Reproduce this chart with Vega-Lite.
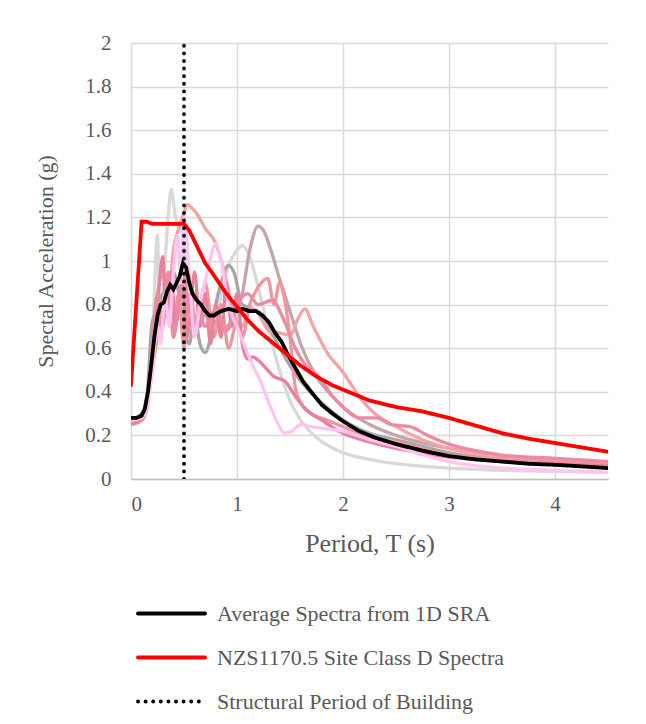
{
  "$schema": "https://vega.github.io/schema/vega-lite/v6.json",
  "width": 477,
  "height": 436,
  "autosize": {"type": "none"},
  "padding": {"left": 131, "top": 43, "right": 38, "bottom": 245},
  "background": "white",
  "config": {
    "view": {"stroke": null},
    "axis": {
      "labelFont": "Times New Roman, Liberation Serif, serif", "titleFont": "Times New Roman, Liberation Serif, serif",
      "labelColor": "#595959", "titleColor": "#595959",
      "labelFontSize": 21, "titleFontSize": 22, "titleFontWeight": "normal",
      "gridColor": "#d9d9d9", "gridWidth": 1.5, "ticks": false
    },
    "legend": {
      "labelFont": "Times New Roman, Liberation Serif, serif", "labelColor": "#595959", "labelFontSize": 22, "labelLimit": 500
    }
  },
  "datasets": {
    "rec": [
      {"s":"A","T":0,"Sa":0.27},{"s":"A","T":0.1,"Sa":0.28},{"s":"A","T":0.15,"Sa":0.35},{"s":"A","T":0.2,"Sa":0.6},{"s":"A","T":0.25,"Sa":1.12},{"s":"A","T":0.27,"Sa":0.75},{"s":"A","T":0.3,"Sa":0.85},{"s":"A","T":0.35,"Sa":1.2},{"s":"A","T":0.38,"Sa":1.33},{"s":"A","T":0.42,"Sa":1.2},{"s":"A","T":0.47,"Sa":1.15},{"s":"A","T":0.52,"Sa":1.0},{"s":"A","T":0.58,"Sa":0.8},{"s":"A","T":0.65,"Sa":0.7},{"s":"A","T":0.72,"Sa":0.72},{"s":"A","T":0.8,"Sa":0.75},{"s":"A","T":0.9,"Sa":0.95},{"s":"A","T":1.0,"Sa":1.05},{"s":"A","T":1.05,"Sa":1.07},{"s":"A","T":1.12,"Sa":1.02},{"s":"A","T":1.2,"Sa":0.88},{"s":"A","T":1.3,"Sa":0.68},{"s":"A","T":1.4,"Sa":0.5},{"s":"A","T":1.5,"Sa":0.36},{"s":"A","T":1.6,"Sa":0.27},{"s":"A","T":1.75,"Sa":0.19},{"s":"A","T":2.0,"Sa":0.12},{"s":"A","T":2.25,"Sa":0.09},{"s":"A","T":2.5,"Sa":0.07},{"s":"A","T":3.0,"Sa":0.05},{"s":"A","T":3.5,"Sa":0.04},{"s":"A","T":4.0,"Sa":0.035},{"s":"A","T":4.5,"Sa":0.03},
      {"s":"B","T":0,"Sa":0.27},{"s":"B","T":0.1,"Sa":0.3},{"s":"B","T":0.15,"Sa":0.38},{"s":"B","T":0.2,"Sa":0.72},{"s":"B","T":0.25,"Sa":0.78},{"s":"B","T":0.3,"Sa":0.85},{"s":"B","T":0.35,"Sa":0.75},{"s":"B","T":0.4,"Sa":0.95},{"s":"B","T":0.45,"Sa":0.85},{"s":"B","T":0.5,"Sa":0.7},{"s":"B","T":0.55,"Sa":0.62},{"s":"B","T":0.6,"Sa":0.75},{"s":"B","T":0.65,"Sa":0.62},{"s":"B","T":0.7,"Sa":0.58},{"s":"B","T":0.75,"Sa":0.65},{"s":"B","T":0.8,"Sa":0.8},{"s":"B","T":0.85,"Sa":0.9},{"s":"B","T":0.92,"Sa":0.98},{"s":"B","T":0.97,"Sa":0.95},{"s":"B","T":1.05,"Sa":0.8},{"s":"B","T":1.15,"Sa":0.78},{"s":"B","T":1.25,"Sa":0.75},{"s":"B","T":1.35,"Sa":0.65},{"s":"B","T":1.5,"Sa":0.52},{"s":"B","T":1.65,"Sa":0.42},{"s":"B","T":1.8,"Sa":0.35},{"s":"B","T":2.0,"Sa":0.27},{"s":"B","T":2.25,"Sa":0.21},{"s":"B","T":2.5,"Sa":0.18},{"s":"B","T":2.75,"Sa":0.15},{"s":"B","T":3.0,"Sa":0.12},{"s":"B","T":3.5,"Sa":0.09},{"s":"B","T":4.0,"Sa":0.075},{"s":"B","T":4.5,"Sa":0.065},
      {"s":"C","T":0,"Sa":0.26},{"s":"C","T":0.1,"Sa":0.28},{"s":"C","T":0.15,"Sa":0.33},{"s":"C","T":0.2,"Sa":0.55},{"s":"C","T":0.25,"Sa":0.7},{"s":"C","T":0.3,"Sa":0.8},{"s":"C","T":0.4,"Sa":0.75},{"s":"C","T":0.5,"Sa":0.85},{"s":"C","T":0.6,"Sa":0.7},{"s":"C","T":0.7,"Sa":0.75},{"s":"C","T":0.8,"Sa":0.72},{"s":"C","T":0.9,"Sa":0.7},{"s":"C","T":0.97,"Sa":0.75},{"s":"C","T":1.05,"Sa":0.85},{"s":"C","T":1.12,"Sa":1.05},{"s":"C","T":1.2,"Sa":1.16},{"s":"C","T":1.25,"Sa":1.14},{"s":"C","T":1.32,"Sa":1.05},{"s":"C","T":1.4,"Sa":0.92},{"s":"C","T":1.5,"Sa":0.77},{"s":"C","T":1.6,"Sa":0.62},{"s":"C","T":1.75,"Sa":0.47},{"s":"C","T":1.9,"Sa":0.38},{"s":"C","T":2.0,"Sa":0.33},{"s":"C","T":2.25,"Sa":0.25},{"s":"C","T":2.5,"Sa":0.2},{"s":"C","T":3.0,"Sa":0.14},{"s":"C","T":3.5,"Sa":0.1},{"s":"C","T":4.0,"Sa":0.085},{"s":"C","T":4.5,"Sa":0.07},
      {"s":"D","T":0,"Sa":0.27},{"s":"D","T":0.1,"Sa":0.29},{"s":"D","T":0.15,"Sa":0.35},{"s":"D","T":0.2,"Sa":0.6},{"s":"D","T":0.25,"Sa":0.85},{"s":"D","T":0.3,"Sa":0.95},{"s":"D","T":0.35,"Sa":0.8},{"s":"D","T":0.4,"Sa":1.05},{"s":"D","T":0.45,"Sa":1.15},{"s":"D","T":0.5,"Sa":1.22},{"s":"D","T":0.53,"Sa":1.26},{"s":"D","T":0.58,"Sa":1.24},{"s":"D","T":0.63,"Sa":1.21},{"s":"D","T":0.7,"Sa":1.15},{"s":"D","T":0.8,"Sa":1.08},{"s":"D","T":0.88,"Sa":0.95},{"s":"D","T":0.95,"Sa":0.8},{"s":"D","T":1.0,"Sa":0.72},{"s":"D","T":1.05,"Sa":0.7},{"s":"D","T":1.12,"Sa":0.78},{"s":"D","T":1.2,"Sa":0.76},{"s":"D","T":1.3,"Sa":0.68},{"s":"D","T":1.4,"Sa":0.67},{"s":"D","T":1.5,"Sa":0.66},{"s":"D","T":1.58,"Sa":0.74},{"s":"D","T":1.64,"Sa":0.78},{"s":"D","T":1.72,"Sa":0.7},{"s":"D","T":1.85,"Sa":0.58},{"s":"D","T":2.0,"Sa":0.49},{"s":"D","T":2.15,"Sa":0.38},{"s":"D","T":2.3,"Sa":0.3},{"s":"D","T":2.5,"Sa":0.24},{"s":"D","T":2.75,"Sa":0.18},{"s":"D","T":3.0,"Sa":0.14},{"s":"D","T":3.5,"Sa":0.1},{"s":"D","T":4.0,"Sa":0.085},{"s":"D","T":4.5,"Sa":0.075},
      {"s":"E","T":0,"Sa":0.26},{"s":"E","T":0.1,"Sa":0.28},{"s":"E","T":0.15,"Sa":0.33},{"s":"E","T":0.2,"Sa":0.5},{"s":"E","T":0.25,"Sa":0.65},{"s":"E","T":0.3,"Sa":0.75},{"s":"E","T":0.35,"Sa":0.9},{"s":"E","T":0.4,"Sa":0.7},{"s":"E","T":0.45,"Sa":0.85},{"s":"E","T":0.5,"Sa":0.6},{"s":"E","T":0.55,"Sa":0.85},{"s":"E","T":0.62,"Sa":0.7},{"s":"E","T":0.7,"Sa":0.9},{"s":"E","T":0.78,"Sa":0.65},{"s":"E","T":0.85,"Sa":0.8},{"s":"E","T":0.92,"Sa":0.6},{"s":"E","T":1.0,"Sa":0.72},{"s":"E","T":1.05,"Sa":0.65},{"s":"E","T":1.12,"Sa":0.8},{"s":"E","T":1.2,"Sa":0.88},{"s":"E","T":1.29,"Sa":0.92},{"s":"E","T":1.35,"Sa":0.8},{"s":"E","T":1.4,"Sa":0.9},{"s":"E","T":1.45,"Sa":0.82},{"s":"E","T":1.5,"Sa":0.65},{"s":"E","T":1.55,"Sa":0.42},{"s":"E","T":1.6,"Sa":0.35},{"s":"E","T":1.7,"Sa":0.3},{"s":"E","T":1.85,"Sa":0.27},{"s":"E","T":2.0,"Sa":0.24},{"s":"E","T":2.25,"Sa":0.19},{"s":"E","T":2.5,"Sa":0.17},{"s":"E","T":2.75,"Sa":0.14},{"s":"E","T":3.0,"Sa":0.11},{"s":"E","T":3.5,"Sa":0.09},{"s":"E","T":4.0,"Sa":0.08},{"s":"E","T":4.5,"Sa":0.07},
      {"s":"F","T":0,"Sa":0.25},{"s":"F","T":0.1,"Sa":0.27},{"s":"F","T":0.15,"Sa":0.32},{"s":"F","T":0.2,"Sa":0.55},{"s":"F","T":0.25,"Sa":0.8},{"s":"F","T":0.3,"Sa":1.02},{"s":"F","T":0.33,"Sa":0.75},{"s":"F","T":0.38,"Sa":0.95},{"s":"F","T":0.42,"Sa":0.7},{"s":"F","T":0.48,"Sa":0.9},{"s":"F","T":0.53,"Sa":0.65},{"s":"F","T":0.6,"Sa":0.95},{"s":"F","T":0.65,"Sa":0.7},{"s":"F","T":0.7,"Sa":0.85},{"s":"F","T":0.75,"Sa":0.62},{"s":"F","T":0.8,"Sa":0.8},{"s":"F","T":0.85,"Sa":0.65},{"s":"F","T":0.9,"Sa":0.9},{"s":"F","T":0.95,"Sa":0.7},{"s":"F","T":1.0,"Sa":0.85},{"s":"F","T":1.05,"Sa":0.62},{"s":"F","T":1.1,"Sa":0.55},{"s":"F","T":1.15,"Sa":0.56},{"s":"F","T":1.25,"Sa":0.52},{"s":"F","T":1.35,"Sa":0.47},{"s":"F","T":1.45,"Sa":0.45},{"s":"F","T":1.55,"Sa":0.38},{"s":"F","T":1.65,"Sa":0.32},{"s":"F","T":1.8,"Sa":0.27},{"s":"F","T":2.0,"Sa":0.21},{"s":"F","T":2.25,"Sa":0.17},{"s":"F","T":2.5,"Sa":0.14},{"s":"F","T":3.0,"Sa":0.1},{"s":"F","T":3.5,"Sa":0.08},{"s":"F","T":4.0,"Sa":0.07},{"s":"F","T":4.5,"Sa":0.06},
      {"s":"G","T":0,"Sa":0.26},{"s":"G","T":0.1,"Sa":0.28},{"s":"G","T":0.15,"Sa":0.34},{"s":"G","T":0.2,"Sa":0.6},{"s":"G","T":0.25,"Sa":0.85},{"s":"G","T":0.3,"Sa":0.7},{"s":"G","T":0.35,"Sa":0.95},{"s":"G","T":0.4,"Sa":0.65},{"s":"G","T":0.45,"Sa":0.8},{"s":"G","T":0.5,"Sa":0.95},{"s":"G","T":0.55,"Sa":0.75},{"s":"G","T":0.6,"Sa":0.85},{"s":"G","T":0.7,"Sa":0.7},{"s":"G","T":0.8,"Sa":0.78},{"s":"G","T":0.9,"Sa":0.68},{"s":"G","T":1.0,"Sa":0.8},{"s":"G","T":1.1,"Sa":0.85},{"s":"G","T":1.2,"Sa":0.8},{"s":"G","T":1.33,"Sa":0.82},{"s":"G","T":1.45,"Sa":0.72},{"s":"G","T":1.55,"Sa":0.6},{"s":"G","T":1.65,"Sa":0.52},{"s":"G","T":1.77,"Sa":0.47},{"s":"G","T":1.9,"Sa":0.38},{"s":"G","T":2.0,"Sa":0.33},{"s":"G","T":2.15,"Sa":0.28},{"s":"G","T":2.32,"Sa":0.28},{"s":"G","T":2.45,"Sa":0.25},{"s":"G","T":2.63,"Sa":0.24},{"s":"G","T":2.8,"Sa":0.2},{"s":"G","T":3.0,"Sa":0.16},{"s":"G","T":3.25,"Sa":0.13},{"s":"G","T":3.5,"Sa":0.11},{"s":"G","T":4.0,"Sa":0.095},{"s":"G","T":4.5,"Sa":0.08},
      {"s":"H","T":0,"Sa":0.27},{"s":"H","T":0.1,"Sa":0.28},{"s":"H","T":0.15,"Sa":0.32},{"s":"H","T":0.2,"Sa":0.5},{"s":"H","T":0.25,"Sa":0.7},{"s":"H","T":0.28,"Sa":0.62},{"s":"H","T":0.32,"Sa":0.85},{"s":"H","T":0.36,"Sa":0.7},{"s":"H","T":0.4,"Sa":0.95},{"s":"H","T":0.44,"Sa":1.12},{"s":"H","T":0.47,"Sa":0.9},{"s":"H","T":0.5,"Sa":1.2},{"s":"H","T":0.55,"Sa":0.95},{"s":"H","T":0.6,"Sa":0.65},{"s":"H","T":0.65,"Sa":0.8},{"s":"H","T":0.72,"Sa":0.95},{"s":"H","T":0.8,"Sa":1.08},{"s":"H","T":0.85,"Sa":1.0},{"s":"H","T":0.92,"Sa":0.8},{"s":"H","T":1.0,"Sa":0.7},{"s":"H","T":1.08,"Sa":0.6},{"s":"H","T":1.15,"Sa":0.52},{"s":"H","T":1.22,"Sa":0.45},{"s":"H","T":1.3,"Sa":0.35},{"s":"H","T":1.38,"Sa":0.26},{"s":"H","T":1.45,"Sa":0.21},{"s":"H","T":1.52,"Sa":0.22},{"s":"H","T":1.6,"Sa":0.25},{"s":"H","T":1.7,"Sa":0.24},{"s":"H","T":1.85,"Sa":0.23},{"s":"H","T":2.0,"Sa":0.22},{"s":"H","T":2.25,"Sa":0.18},{"s":"H","T":2.5,"Sa":0.15},{"s":"H","T":2.75,"Sa":0.11},{"s":"H","T":3.0,"Sa":0.08},{"s":"H","T":3.5,"Sa":0.05},{"s":"H","T":4.0,"Sa":0.04},{"s":"H","T":4.5,"Sa":0.03}
    ],
    "main": [
      {"series":"Average Spectra from 1D SRA","T":0,"Sa":0.28},{"series":"Average Spectra from 1D SRA","T":0.05,"Sa":0.28},{"series":"Average Spectra from 1D SRA","T":0.1,"Sa":0.29},{"series":"Average Spectra from 1D SRA","T":0.13,"Sa":0.32},{"series":"Average Spectra from 1D SRA","T":0.16,"Sa":0.4},{"series":"Average Spectra from 1D SRA","T":0.19,"Sa":0.52},{"series":"Average Spectra from 1D SRA","T":0.22,"Sa":0.65},{"series":"Average Spectra from 1D SRA","T":0.25,"Sa":0.75},{"series":"Average Spectra from 1D SRA","T":0.28,"Sa":0.8},{"series":"Average Spectra from 1D SRA","T":0.31,"Sa":0.81},{"series":"Average Spectra from 1D SRA","T":0.34,"Sa":0.86},{"series":"Average Spectra from 1D SRA","T":0.37,"Sa":0.89},{"series":"Average Spectra from 1D SRA","T":0.4,"Sa":0.87},{"series":"Average Spectra from 1D SRA","T":0.43,"Sa":0.9},{"series":"Average Spectra from 1D SRA","T":0.46,"Sa":0.93},{"series":"Average Spectra from 1D SRA","T":0.49,"Sa":0.99},{"series":"Average Spectra from 1D SRA","T":0.52,"Sa":0.97},{"series":"Average Spectra from 1D SRA","T":0.55,"Sa":0.9},{"series":"Average Spectra from 1D SRA","T":0.58,"Sa":0.85},{"series":"Average Spectra from 1D SRA","T":0.62,"Sa":0.82},{"series":"Average Spectra from 1D SRA","T":0.66,"Sa":0.8},{"series":"Average Spectra from 1D SRA","T":0.7,"Sa":0.77},{"series":"Average Spectra from 1D SRA","T":0.74,"Sa":0.75},{"series":"Average Spectra from 1D SRA","T":0.78,"Sa":0.75},{"series":"Average Spectra from 1D SRA","T":0.85,"Sa":0.77},{"series":"Average Spectra from 1D SRA","T":0.92,"Sa":0.78},{"series":"Average Spectra from 1D SRA","T":1.0,"Sa":0.77},{"series":"Average Spectra from 1D SRA","T":1.05,"Sa":0.78},{"series":"Average Spectra from 1D SRA","T":1.12,"Sa":0.77},{"series":"Average Spectra from 1D SRA","T":1.18,"Sa":0.77},{"series":"Average Spectra from 1D SRA","T":1.24,"Sa":0.75},{"series":"Average Spectra from 1D SRA","T":1.3,"Sa":0.72},{"series":"Average Spectra from 1D SRA","T":1.36,"Sa":0.67},{"series":"Average Spectra from 1D SRA","T":1.42,"Sa":0.63},{"series":"Average Spectra from 1D SRA","T":1.48,"Sa":0.57},{"series":"Average Spectra from 1D SRA","T":1.55,"Sa":0.51},{"series":"Average Spectra from 1D SRA","T":1.62,"Sa":0.45},{"series":"Average Spectra from 1D SRA","T":1.7,"Sa":0.4},{"series":"Average Spectra from 1D SRA","T":1.8,"Sa":0.34},{"series":"Average Spectra from 1D SRA","T":1.9,"Sa":0.3},{"series":"Average Spectra from 1D SRA","T":2.0,"Sa":0.265},{"series":"Average Spectra from 1D SRA","T":2.15,"Sa":0.22},{"series":"Average Spectra from 1D SRA","T":2.3,"Sa":0.19},{"series":"Average Spectra from 1D SRA","T":2.5,"Sa":0.16},{"series":"Average Spectra from 1D SRA","T":2.75,"Sa":0.13},{"series":"Average Spectra from 1D SRA","T":3.0,"Sa":0.105},{"series":"Average Spectra from 1D SRA","T":3.25,"Sa":0.09},{"series":"Average Spectra from 1D SRA","T":3.5,"Sa":0.08},{"series":"Average Spectra from 1D SRA","T":3.75,"Sa":0.07},{"series":"Average Spectra from 1D SRA","T":4.0,"Sa":0.065},{"series":"Average Spectra from 1D SRA","T":4.25,"Sa":0.058},{"series":"Average Spectra from 1D SRA","T":4.5,"Sa":0.05},
      {"series":"NZS1170.5 Site Class D Spectra","T":0,"Sa":0.43},{"series":"NZS1170.5 Site Class D Spectra","T":0.1,"Sa":1.18},{"series":"NZS1170.5 Site Class D Spectra","T":0.15,"Sa":1.18},{"series":"NZS1170.5 Site Class D Spectra","T":0.2,"Sa":1.17},{"series":"NZS1170.5 Site Class D Spectra","T":0.3,"Sa":1.17},{"series":"NZS1170.5 Site Class D Spectra","T":0.4,"Sa":1.17},{"series":"NZS1170.5 Site Class D Spectra","T":0.5,"Sa":1.17},{"series":"NZS1170.5 Site Class D Spectra","T":0.55,"Sa":1.14},{"series":"NZS1170.5 Site Class D Spectra","T":0.6,"Sa":1.09},{"series":"NZS1170.5 Site Class D Spectra","T":0.65,"Sa":1.04},{"series":"NZS1170.5 Site Class D Spectra","T":0.7,"Sa":0.99},{"series":"NZS1170.5 Site Class D Spectra","T":0.76,"Sa":0.95},{"series":"NZS1170.5 Site Class D Spectra","T":0.83,"Sa":0.9},{"series":"NZS1170.5 Site Class D Spectra","T":0.9,"Sa":0.85},{"series":"NZS1170.5 Site Class D Spectra","T":1.0,"Sa":0.79},{"series":"NZS1170.5 Site Class D Spectra","T":1.1,"Sa":0.73},{"series":"NZS1170.5 Site Class D Spectra","T":1.2,"Sa":0.68},{"series":"NZS1170.5 Site Class D Spectra","T":1.3,"Sa":0.64},{"series":"NZS1170.5 Site Class D Spectra","T":1.4,"Sa":0.6},{"series":"NZS1170.5 Site Class D Spectra","T":1.5,"Sa":0.56},{"series":"NZS1170.5 Site Class D Spectra","T":1.6,"Sa":0.52},{"series":"NZS1170.5 Site Class D Spectra","T":1.75,"Sa":0.47},{"series":"NZS1170.5 Site Class D Spectra","T":1.9,"Sa":0.43},{"series":"NZS1170.5 Site Class D Spectra","T":2.0,"Sa":0.41},{"series":"NZS1170.5 Site Class D Spectra","T":2.25,"Sa":0.36},{"series":"NZS1170.5 Site Class D Spectra","T":2.5,"Sa":0.33},{"series":"NZS1170.5 Site Class D Spectra","T":2.75,"Sa":0.31},{"series":"NZS1170.5 Site Class D Spectra","T":3.0,"Sa":0.28},{"series":"NZS1170.5 Site Class D Spectra","T":3.25,"Sa":0.245},{"series":"NZS1170.5 Site Class D Spectra","T":3.5,"Sa":0.21},{"series":"NZS1170.5 Site Class D Spectra","T":3.75,"Sa":0.185},{"series":"NZS1170.5 Site Class D Spectra","T":4.0,"Sa":0.165},{"series":"NZS1170.5 Site Class D Spectra","T":4.25,"Sa":0.145},{"series":"NZS1170.5 Site Class D Spectra","T":4.5,"Sa":0.125},
      {"series":"Structural Period of Building","T":0.5,"Sa":0},{"series":"Structural Period of Building","T":0.5,"Sa":2}
    ]
  },
  "layer": [
    {
      "data": {"name": "rec"},
      "mark": {"type": "line", "strokeWidth": 3.3, "interpolate": "monotone", "clip": true},
      "encoding": {
        "x": {"field": "T", "type": "quantitative", "scale": {"domain": [0, 4.5], "nice": false},
              "axis": {"title": "Period, T (s)", "titleFontSize": 26, "values": [0,1,2,3,4], "format": "~g", "labelPadding": 14, "titlePadding": 16, "domainColor": "#bfbfbf", "domainWidth": 1.5}},
        "y": {"field": "Sa", "type": "quantitative", "scale": {"domain": [0, 2], "nice": false},
              "axis": {"title": "Spectal Acceleration (g)", "values": [0,0.2,0.4,0.6,0.8,1,1.2,1.4,1.6,1.8,2], "format": "~g", "labelPadding": 20, "titlePadding": 27, "domain": false}},
        "stroke": {"field": "s", "type": "nominal", "legend": null,
                  "scale": {"domain": ["A","B","C","D","E","F","G","H"], "range": ["#d9d9d9","#a6a6a6","#c4a4ad","#f5a3a3","#f0979e","#e8819a","#eb8aa2","#ffc4f2"]}}
      }
    },
    {
      "data": {"name": "main"},
      "mark": {"type": "line", "strokeCap": "round", "clip": true},
      "encoding": {
        "x": {"field": "T", "type": "quantitative"},
        "y": {"field": "Sa", "type": "quantitative"},
        "color": {"field": "series", "type": "nominal",
                  "scale": {"domain": ["Average Spectra from 1D SRA","NZS1170.5 Site Class D Spectra","Structural Period of Building"], "range": ["#000000","#ff0000","#000000"]},
                  "legend": {"title": null, "orient": "none", "legendX": 27, "legendY": 557, "symbolType": "M-3,0H3", "symbolSize": 500, "symbolStrokeWidth": 3.5, "labelOffset": 32, "rowPadding": 19,
                             "encode": {"symbols": {"update": {"strokeCap": {"value": "round"}, "strokeDash": {"signal": "datum.value === 'Structural Period of Building' ? [0.1, 8] : [1, 0]"}}}}}},
        "strokeDash": {"field": "series", "type": "nominal",
                  "scale": {"domain": ["Average Spectra from 1D SRA","NZS1170.5 Site Class D Spectra","Structural Period of Building"], "range": [[1,0],[1,0],[0.1,7.5]]},
                  "legend": {"title": null, "orient": "none", "legendX": 27, "legendY": 557, "symbolType": "M-3,0H3", "symbolSize": 500, "symbolStrokeWidth": 3.5, "labelOffset": 32, "rowPadding": 19,
                             "encode": {"symbols": {"update": {"strokeCap": {"value": "round"}, "strokeDash": {"signal": "datum.value === 'Structural Period of Building' ? [0.1, 8] : [1, 0]"}}}}}},
        "strokeWidth": {"field": "series", "type": "nominal", "legend": null,
                  "scale": {"domain": ["Average Spectra from 1D SRA","NZS1170.5 Site Class D Spectra","Structural Period of Building"], "range": [3.8, 3.8, 3]}}
      }
    }
  ]
}
